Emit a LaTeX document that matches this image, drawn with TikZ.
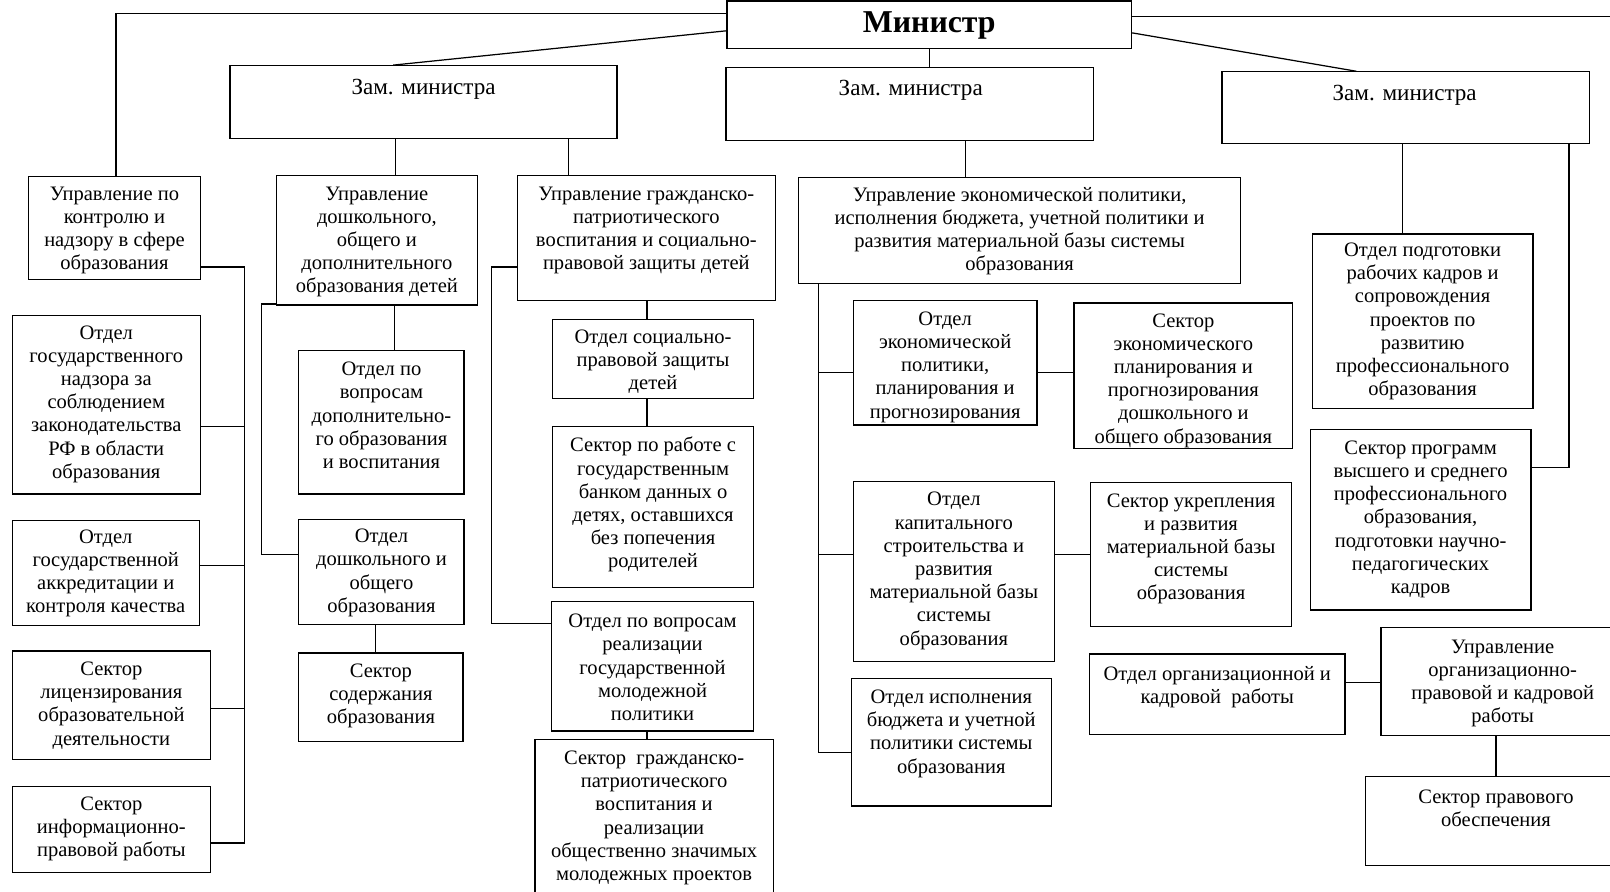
\documentclass[tikz,border=0pt]{standalone}
\usepackage{fontspec}
\setmainfont{Liberation Serif}
\newcommand{\bx}[7]{%
  \node[box, minimum width={(#4-#2)*1pt}, minimum height={(#5-#3)*1pt}] (#1) at ({(#2+#4)/2},{(#3+#5)/2}) {};
  \node[txt] (#1t) at ({(#2+#4)/2},#6) {#7};}
\begin{document}
\begin{tikzpicture}[x=1pt,y=-1pt,
  box/.style={draw, line width=1.2pt, inner sep=0pt},
  txt/.style={inner sep=0pt, align=center, font=\fontsize{20}{22.6}\selectfont},
  zamtxt/.style={inner sep=0pt, font=\fontsize{22.5}{26}\selectfont},
  ln/.style={line width=1.2pt}]
\useasboundingbox (0,0) rectangle (1568,868);
\clip (0,0) rectangle (1568,868);
\fill[white] (0,0) rectangle (1568,868);

% top level
\node[box, minimum width=394pt, minimum height=46pt] (min) at (905,24) {};
\node[inner sep=0pt, font=\fontsize{31}{36}\selectfont\bfseries] (mint) at (905,25) {Министр};
\node[box, minimum width=377pt, minimum height=71pt] (zam1) at (412.5,99.5) {};
\node[zamtxt] (zam1t) at (412.5,87) {Зам. министра};
\node[box, minimum width=358pt, minimum height=71pt] (zam2) at (886,101.5) {};
\node[zamtxt] (zam2t) at (887,88) {Зам. министра};
\node[box, minimum width=358pt, minimum height=70pt] (zam3) at (1369,105) {};
\node[zamtxt] (zam3t) at (1368,93) {Зам. министра};

% level 2
\bx{uA}{28}{172}{195}{272}{224.5}{Управление по\\контролю и\\надзору в сфере\\образования}
\bx{uB}{269}{171}{465}{297}{235.6}{Управление\\дошкольного,\\общего и\\дополнительного\\образования детей}
\bx{uC}{504}{171}{755}{293}{224.5}{Управление гражданско-\\патриотического\\воспитания и социально-\\правовой защиты детей}
\bx{uD}{778}{173}{1208}{276}{225}{Управление экономической политики,\\исполнения бюджета, учетной политики и\\развития материальной базы системы\\образования}
\bx{oE1}{1278}{228}{1493}{398}{313}{Отдел подготовки\\рабочих кадров и\\сопровождения\\проектов по\\развитию\\профессионального\\образования}

% column A
\bx{a1}{12}{307}{195}{481}{393.5}{Отдел\\государственного\\надзора за\\соблюдением\\законодательства\\РФ в области\\образования}
\bx{a2}{12}{507}{194}{609}{558.5}{Отдел\\государственной\\аккредитации и\\контроля качества}
\bx{a3}{12}{634}{205}{740}{687}{Сектор\\лицензирования\\образовательной\\деятельности}
\bx{a4}{12}{766}{205}{850}{807}{Сектор\\информационно-\\правовой работы}

% column B
\bx{b1}{291}{341}{452}{481}{404.6}{Отдел по\\вопросам\\дополнительно-\\го образования\\и воспитания}
\bx{b2}{291}{506}{452}{608}{558}{Отдел\\дошкольного и\\общего\\образования}
\bx{b3}{291}{636}{451}{722}{678}{Сектор\\содержания\\образования}

% column C
\bx{c1}{538}{311}{734}{388}{352}{Отдел социально-\\правовой защиты\\детей}
\bx{c2}{538}{415}{734}{572}{491.5}{Сектор по работе с\\государственным\\банком данных о\\детях, оставшихся\\без попечения\\родителей}
\bx{c3}{537}{586}{734}{712}{650}{Отдел по вопросам\\реализации\\государственной\\молодежной\\политики}
\bx{c4}{521}{720}{753}{875}{796.5}{Сектор~ гражданско-\\патриотического\\воспитания и\\реализации\\общественно значимых\\молодежных проектов}

% column D
\bx{d1}{831}{293}{1010}{414}{357.4}{Отдел\\экономической\\политики,\\планирования и\\прогнозирования}
\bx{d2}{1046}{295}{1259}{437}{370.5}{Сектор\\экономического\\планирования и\\прогнозирования\\дошкольного и\\общего образования}
\bx{d3}{831}{469}{1027}{644}{556}{Отдел\\капитального\\строительства и\\развития\\материальной базы\\системы\\образования}
\bx{d4}{1062}{470}{1258}{610}{534.5}{Сектор укрепления\\и развития\\материальной базы\\системы\\образования}
\bx{d5}{829}{661}{1024}{785}{714.5}{Отдел исполнения\\бюджета и учетной\\политики системы\\образования}

% column E
\bx{e2}{1276}{418}{1491}{594}{505.7}{Сектор программ\\высшего и среднего\\профессионального\\образования,\\подготовки научно-\\педагогических\\кадров}
\bx{e3}{1345}{611}{1582}{716}{665.5}{Управление\\организационно-\\правовой и кадровой\\работы}
\bx{e4}{1061}{637}{1310}{715}{669.5}{Отдел организационной и\\кадровой~ работы}
\bx{e5}{1330}{756}{1584}{843}{787.5}{Сектор правового\\обеспечения}

% helper coordinates
\coordinate (yTop) at (0,13);
\coordinate (xTl) at (113,0);
\coordinate (yTr) at (0,16);
\coordinate (xTr) at (1580,0);
\coordinate (yM1) at (0,30);
\coordinate (xZ1) at (383,0);
\coordinate (yM3) at (0,32);
\coordinate (xZ3) at (1321,0);
\coordinate (xM2) at (905,0);
\coordinate (xB) at (385,0);
\coordinate (xC) at (554,0);
\coordinate (xD) at (940,0);
\coordinate (xE) at (1366,0);
\coordinate (xE2) at (1528,0);
\coordinate (yE2) at (0,455);
\coordinate (xAb) at (238,0);
\coordinate (yA0) at (0,260);
\coordinate (yA1) at (0,415);
\coordinate (yA2) at (0,551);
\coordinate (yA3) at (0,690);
\coordinate (yA4) at (0,821);
\coordinate (xBb) at (255,0);
\coordinate (yB0) at (0,296);
\coordinate (yB2) at (0,540);
\coordinate (xB1) at (384,0);
\coordinate (xB3) at (366,0);
\coordinate (xCb) at (479,0);
\coordinate (yC0) at (0,260);
\coordinate (yC3) at (0,607);
\coordinate (xCv) at (630,0);
\coordinate (xDb) at (797,0);
\coordinate (yD1) at (0,363);
\coordinate (yD3) at (0,540);
\coordinate (yD5) at (0,733);
\coordinate (yE4) at (0,665);
\coordinate (xE5) at (1457,0);

% connectors from the minister
\draw[ln] (min.west |- yTop) -| (uA.north -| xTl);
\draw[ln] (min.east |- yTr) -- (xTr |- yTr);
\draw[ln] (min.west |- yM1) -- (zam1.north -| xZ1);
\draw[ln] (min.east |- yM3) -- (zam3.north -| xZ3);
\draw[ln] (min.south -| xM2) -- (zam2.north -| xM2);
% deputies to departments
\draw[ln] (zam1.south -| xB) -- (uB.north -| xB);
\draw[ln] (zam1.south -| xC) -- (uC.north -| xC);
\draw[ln] (zam2.south -| xD) -- (uD.north -| xD);
\draw[ln] (zam3.south -| xE) -- (oE1.north -| xE);
\draw[ln] (zam3.south -| xE2) |- (e2.east |- yE2);
% column A
\draw[ln] (uA.east |- yA0) -| (xAb |- yA4) -- (a4.east |- yA4);
\draw[ln] (xAb |- yA1) -- (a1.east |- yA1);
\draw[ln] (xAb |- yA2) -- (a2.east |- yA2);
\draw[ln] (xAb |- yA3) -- (a3.east |- yA3);
% column B
\draw[ln] (uB.west |- yB0) -| (xBb |- yB2) -- (b2.west |- yB2);
\draw[ln] (uB.south -| xB1) -- (b1.north -| xB1);
\draw[ln] (b2.south -| xB3) -- (b3.north -| xB3);
% column C
\draw[ln] (uC.west |- yC0) -| (xCb |- yC3) -- (c3.west |- yC3);
\draw[ln] (uC.south -| xCv) -- (c1.north -| xCv);
\draw[ln] (c1.south -| xCv) -- (c2.north -| xCv);
\draw[ln] (c3.south -| xCv) -- (c4.north -| xCv);
% column D
\draw[ln] (uD.south -| xDb) |- (d5.west |- yD5);
\draw[ln] (xDb |- yD1) -- (d1.west |- yD1);
\draw[ln] (d1.east |- yD1) -- (d2.west |- yD1);
\draw[ln] (xDb |- yD3) -- (d3.west |- yD3);
\draw[ln] (d3.east |- yD3) -- (d4.west |- yD3);
% column E
\draw[ln] (e4.east |- yE4) -- (e3.west |- yE4);
\draw[ln] (e3.south -| xE5) -- (e5.north -| xE5);
\end{tikzpicture}
\end{document}
